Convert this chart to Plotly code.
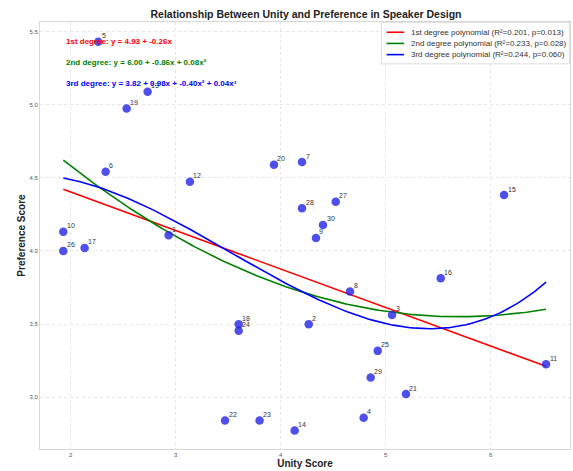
import numpy as np
import plotly.graph_objects as go

ids = list(range(1, 31))
unity = [2.933, 4.267, 5.060, 4.790, 2.263, 2.333, 4.203, 4.660, 4.336, 1.930,
         6.527, 3.136, 2.733, 4.133, 6.127, 5.524, 2.133, 3.600, 2.533, 3.936,
         5.193, 3.470, 3.799, 3.600, 4.924, 1.930, 4.524, 4.203, 4.857, 4.403]
pref = [4.107, 3.499, 3.562, 2.858, 5.432, 4.542, 4.609, 3.722, 4.089, 4.132,
        3.225, 4.474, 5.090, 2.771, 4.383, 3.813, 4.021, 3.499, 4.976, 4.590,
        3.020, 2.839, 2.839, 3.453, 3.316, 4.000, 4.337, 4.292, 3.133, 4.178]

fit_names = ["1st degree polynomial (R²=0.201, p=0.013)",
             "2nd degree polynomial (R²=0.233, p=0.028)",
             "3rd degree polynomial (R²=0.244, p=0.060)"]
fit_colors = ["red", "green", "blue"]
eq_texts = ["1st degree: y = 4.93 + -0.26x",
            "2nd degree: y = 6.00 + -0.86x + 0.08x²",
            "3rd degree: y = 3.82 + 0.98x + -0.40x² + 0.04x³"]
x_ticks = [2, 3, 4, 5, 6]
y_ticks = [3.0, 3.5, 4.0, 4.5, 5.0, 5.5]

FONT = "Liberation Sans"
x = np.array(unity)
y = np.array(pref)
xs = np.linspace(x.min(), x.max(), 200)

fig = go.Figure()
for deg, (name, col) in enumerate(zip(fit_names, fit_colors), start=1):
    coef = np.polyfit(x, y, deg)
    fig.add_trace(go.Scatter(x=xs, y=np.polyval(coef, xs), mode="lines",
                             line=dict(color=col, width=1.6), name=name,
                             showlegend=False))

fig.add_trace(go.Scatter(x=unity, y=pref, mode="markers",
                         marker=dict(size=8.5, color="rgba(35,35,230,0.8)"),
                         showlegend=False, hoverinfo="skip"))

for i, ux, py in zip(ids, unity, pref):
    fig.add_annotation(x=ux, y=py, text=str(i), showarrow=False,
                       xanchor="left", yanchor="bottom", xshift=1.5, yshift=0.5,
                       font=dict(size=7, color="#333333", family=FONT))

for i, (t, col) in enumerate(zip(eq_texts, fit_colors)):
    fig.add_annotation(xref="paper", yref="paper", x=0.046, y=0.955 - i * 0.049,
                       xanchor="left", yanchor="middle", showarrow=False,
                       text="<b>" + t + "</b>",
                       font=dict(size=8, color=col, family=FONT))

# custom compact legend (paper coordinates)
lx0, lx1, ly_top, ly_bot = 0.644, 0.999, 0.999, 0.902
fig.add_shape(type="rect", xref="paper", yref="paper", x0=lx0, x1=lx1, y0=ly_bot, y1=ly_top,
              line=dict(color="#dddddd", width=1), fillcolor="rgba(255,255,255,0.9)", layer="above")
for i, (name, col) in enumerate(zip(fit_names, fit_colors)):
    yy = 0.976 - i * 0.0262
    fig.add_shape(type="line", xref="paper", yref="paper", x0=0.654, x1=0.687, y0=yy, y1=yy,
                  line=dict(color=col, width=1.6), layer="above")
    fig.add_annotation(xref="paper", yref="paper", x=0.697, y=yy, xanchor="left",
                       yanchor="middle", showarrow=False, text=name,
                       font=dict(size=8, color="#333333", family=FONT))

axis_common = dict(showgrid=True, gridcolor="#e6e6e6", griddash="dot", gridwidth=1,
                   showline=True, linecolor="#d8d8d8", linewidth=1, mirror=True,
                   zeroline=False, ticks="",
                   tickfont=dict(size=6, color="#555555", family=FONT))

fig.update_layout(
    width=573, height=471,
    margin=dict(l=40, r=3, t=22, b=22),
    paper_bgcolor="white", plot_bgcolor="white",
    showlegend=False,
    title=dict(text="<b>Relationship Between Unity and Preference in Speaker Design</b>",
               x=0.534, xanchor="center", y=0.978, yanchor="top",
               font=dict(size=10.5, color="#222222", family=FONT)),
    xaxis=dict(range=[1.708, 6.755], tickvals=x_ticks, ticktext=[str(v) for v in x_ticks],
               title=dict(text="<b>Unity Score</b>", standoff=2,
                          font=dict(size=10, color="#222222", family=FONT)),
               **axis_common),
    yaxis=dict(range=[2.644, 5.568], tickvals=y_ticks, ticktext=[f"{v:.1f}" for v in y_ticks],
               title=dict(text="<b>Preference Score</b>", standoff=1,
                          font=dict(size=10, color="#222222", family=FONT)),
               **axis_common),
)

fig.write_html("out.html")
